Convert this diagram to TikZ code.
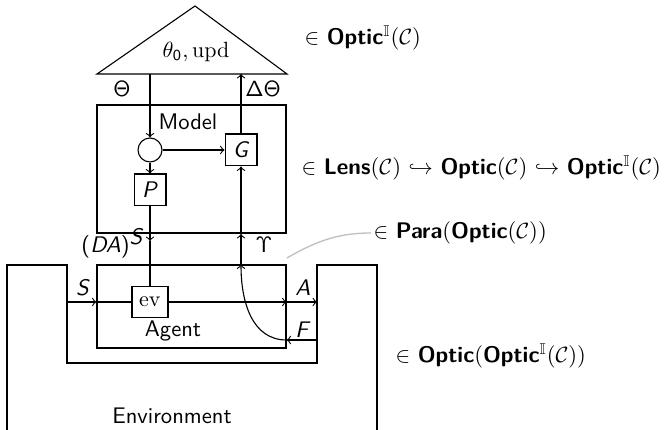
\documentclass[tikz,border=0pt]{standalone}
\usepackage{amssymb}
\usetikzlibrary{positioning,calc}

\newcommand{\cat}{\mathcal{C}}
\newcommand{\bsf}[1]{\textsf{\bfseries #1}}
\newcommand{\sfit}[1]{\textsf{\itshape #1}}
\newcommand{\OpticI}{\bsf{Optic}$^{\mathbb{I}}$}

\tikzset{
	wire/.style={draw=black, line width=0.5pt, solid},
	fn/.style={draw=black, line width=0.5pt, inner sep=0pt, minimum width=14.5pt, minimum height=14.5pt},
	frame/.style={draw=black, line width=0.5pt, inner sep=0pt},
	tag/.style={black, inner sep=1pt},
}

\begin{document}
\fontsize{10.25pt}{12.3pt}\selectfont
\begin{tikzpicture}[x=0.4545pt, y=-0.4545pt, >=to]
	\useasboundingbox (0,0) rectangle (669,430);

	% parameter triangle
	\coordinate (triL) at (97,74);
	\coordinate (triR) at (287,74);
	\coordinate (triT) at (195,6);
	\draw[wire] (triL) -- (triT) -- (triR) -- cycle;
	\node[tag] (init) at (196,52) {$\theta_{\mathsf{0}}, \mathrm{upd}$};

	% model
	\node[frame, minimum width=85.9pt, minimum height=58.2pt] (model) at (191.5,169) {};
	\node[tag, font=\sffamily] (modeltxt) at (188,122) {Model};
	\node[circle, draw=black, line width=0.5pt, minimum size=10.9pt, inner sep=0pt] (copy) at (150,150) {};
	\node[fn] (G) at (241,150) {\sfit{G}};
	\node[fn] (P) at (150,190) {\sfit{P}};

	% agent and environment
	\node[frame, minimum width=85.9pt, minimum height=37.7pt] (agent) at (191.5,306.5) {};
	\node[tag, font=\sffamily] (agenttxt) at (173,331) {Agent};
	\node[fn, minimum width=16.4pt, minimum height=14.1pt] (ev) at (150,302) {$\mathrm{ev}$};
	\coordinate (envBL) at (7,436);
	\coordinate (envL) at (67,265);
	\coordinate (envR) at (317,363);
	\coordinate (envBR) at (377,436);
	\draw[wire] (envBL) |- (envL) |- (envR) |- (envBR |- envL) -- (envBR);
	\node[tag, font=\sffamily] (envtxt) at (172,416) {Environment};

	% wires
	\coordinate (sin) at (67,302);
	\coordinate (aout) at (317,302);
	\coordinate (fin) at (317,340);
	\coordinate (dmid) at (150,241);
	\coordinate (umid) at (241,234);
	\draw[wire, ->] (copy |- triL) -- (copy);
	\draw[wire, ->] (copy) -- (P);
	\draw[wire, ->] (copy) -- (G);
	\draw[wire, ->] (G) -- (G |- triL);
	\draw[wire, ->] (P) -- (dmid);
	\draw[wire] (dmid) -- (ev);
	\draw[wire, ->] (G |- agent.north) -- (umid);
	\draw[wire, ->] (umid) -- (G);
	\draw[wire, ->] (sin) -- (agent.west |- sin);
	\draw[wire] (agent.west |- sin) -- (ev);
	\draw[wire, ->] (ev) -- (agent.east |- sin);
	\draw[wire, ->] (agent.east |- sin) -- (aout);
	\draw[wire, ->] (fin) -- (agent.east |- fin);
	\draw[wire, ->] (agent.east |- fin) .. controls (252,340) and (241,302) .. (G |- agent.north);

	% wire labels
	\node[tag] (thlbl) at (122,89) {$\mathsf{\Theta}$};
	\node[tag] (dthlbl) at (263,89) {$\mathsf{\Delta\Theta}$};
	\node[tag, anchor=east] (dalbl) at (146,243) {\textsf{(\textit{DA})}$^{\sfit{S}}$};
	\node[tag] (uplbl) at (264,245) {$\mathsf{\Upsilon}$};
	\node[tag] (slbl) at (83,288) {\sfit{S}};
	\node[tag] (albl) at (303,288) {\sfit{A}};
	\node[tag] (flbl) at (303,330) {\sfit{F}};

	% where each part lives
	\node[tag, anchor=west] (inOpI) at (302,38) {$\in$ \OpticI($\cat$)};
	\node[tag, anchor=west] (inLens) at (299,168) {$\in$ \bsf{Lens}($\cat$) $\hookrightarrow$ \bsf{Optic}($\cat$) $\hookrightarrow$ \OpticI($\cat$)};
	\node[tag, anchor=west] (inPara) at (371,233) {$\in$ \bsf{Para}(\bsf{Optic}($\cat$))};
	\node[tag, anchor=west] (inOpOp) at (393,356) {$\in$ \bsf{Optic}(\OpticI($\cat$))};
	\draw[draw=lightgray, semithick] (287,258) .. controls (318,240) and (340,233) .. (inPara.west);
\end{tikzpicture}
\end{document}
